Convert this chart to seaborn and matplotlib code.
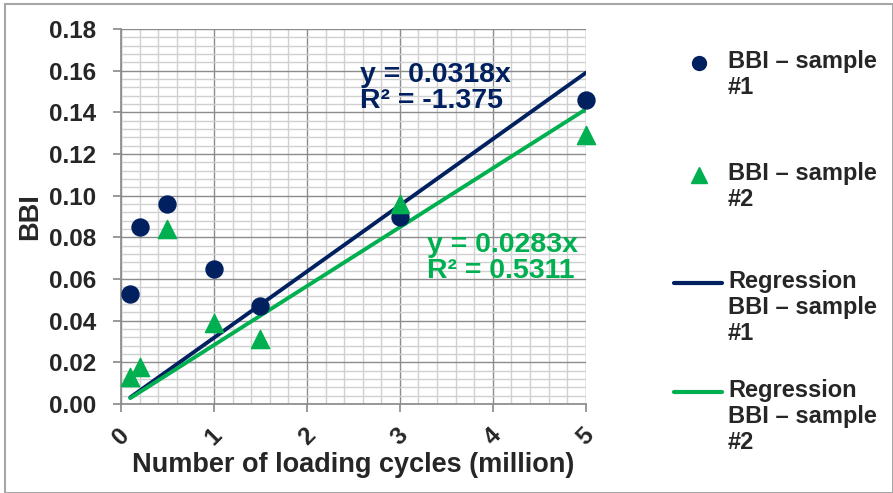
import numpy as np
import pandas as pd
import seaborn as sns
import matplotlib.pyplot as plt
from matplotlib.lines import Line2D
from matplotlib.patches import Rectangle

cycles = [0.1, 0.2, 0.5, 1.0, 1.5, 3.0, 5.0]
bbi_s1 = [0.053, 0.085, 0.096, 0.065, 0.047, 0.090, 0.146]
bbi_s2 = [0.013, 0.018, 0.084, 0.039, 0.031, 0.096, 0.129]
slope_s1 = 0.0318
slope_s2 = 0.0283
reg_x = [0.1, 5.0]

navy = '#002060'
green = '#00B050'

sns.set_theme(style="white")
plt.rcParams['font.family'] = ['Liberation Sans', 'DejaVu Sans']
plt.rcParams['font.weight'] = 'bold'

df1 = pd.DataFrame({'x': cycles, 'y': bbi_s1})
df2 = pd.DataFrame({'x': cycles, 'y': bbi_s2})
reg1 = pd.DataFrame({'x': reg_x, 'y': [slope_s1 * v for v in reg_x]})
reg2 = pd.DataFrame({'x': reg_x, 'y': [slope_s2 * v for v in reg_x]})

W, H = 893, 493
fig = plt.figure(figsize=(W / 100, H / 100), dpi=100)
fig.patches.append(Rectangle((0.006, 0.0), 0.994, 0.992, transform=fig.transFigure,
                             fill=False, edgecolor='#a6a6a6', lw=1.5))
ax = fig.add_axes([0.1355, 0.1805, 0.5205, 0.7605])

# grid
ax.set_xlim(0, 5)
ax.set_ylim(0, 0.18)
ax.set_xticks(np.arange(0, 5.01, 1))
ax.set_yticks(np.arange(0, 0.181, 0.02))
ax.set_xticks(np.arange(0, 5.01, 0.2), minor=True)
ax.set_yticks(np.arange(0, 0.181, 0.004), minor=True)
ax.grid(which='minor', color='#d0d0d0', lw=1.0)
ax.grid(which='major', color='#8c8c8c', lw=1.0)
ax.set_axisbelow(True)
for s in ['top', 'right']:
    ax.spines[s].set_visible(False)
for s in ['left', 'bottom']:
    ax.spines[s].set_color('#8c8c8c')
ax.tick_params(which='major', length=6, color='#8c8c8c', direction='out',
               bottom=True, left=True, labelsize=17.5)
ax.tick_params(axis='y', pad=12)
ax.tick_params(axis='x', pad=8)
ax.tick_params(which='minor', length=0)
ax.set_yticklabels([f'{v:.2f}' for v in np.arange(0, 0.181, 0.02)], fontweight='bold')
ax.set_xticklabels([str(i) for i in range(6)], rotation=45, fontweight='bold')

sns.lineplot(data=reg1, x='x', y='y', ax=ax, color=navy, lw=2.8)
sns.lineplot(data=reg2, x='x', y='y', ax=ax, color=green, lw=2.8)
sns.scatterplot(data=df1, x='x', y='y', ax=ax, color=navy, marker='o', s=150,
                edgecolor=navy, zorder=5, clip_on=False)
sns.scatterplot(data=df2, x='x', y='y', ax=ax, color=green, marker='^', s=170,
                edgecolor=green, zorder=5, clip_on=False)

ax.set_xlabel('Number of loading cycles (million)', fontsize=19.5, fontweight='bold', labelpad=2)
ax.set_ylabel('BBI', fontsize=19.5, fontweight='bold', labelpad=4)

ax.text(2.57, 0.164, 'y = 0.0318x\nR² = -1.375', color=navy, fontsize=20.5,
        fontweight='bold', va='top', ha='left', linespacing=1.0)
ax.text(3.29, 0.0826, 'y = 0.0283x\nR² = 0.5311', color=green, fontsize=20.5,
        fontweight='bold', va='top', ha='left', linespacing=1.0)

# legend, laid out like the spreadsheet one (marker beside first line)
legend_items = [
    (63, dict(ls='none', marker='o', color=navy, markersize=10), 'BBI \u2013 sample\n#1'),
    (175, dict(ls='none', marker='^', color=green, markersize=11), 'BBI \u2013 sample\n#2'),
    (283, dict(color=navy, lw=3), 'Regression\nBBI \u2013 sample\n#1'),
    (392, dict(color=green, lw=3), 'Regression\nBBI \u2013 sample\n#2'),
]
for ypix, style, label in legend_items:
    yf = 1 - ypix / H
    if style.get('ls') == 'none':
        xs = [699 / W]
    else:
        xs = [674 / W, 722 / W]
    fig.add_artist(Line2D(xs, [yf] * len(xs), transform=fig.transFigure, **style))
    fig.text(728 / W, 1 - (ypix - 13) / H, label, fontsize=17, fontweight='bold',
             va='top', ha='left', linespacing=1.17)

fig.savefig('out.png', dpi=100)
